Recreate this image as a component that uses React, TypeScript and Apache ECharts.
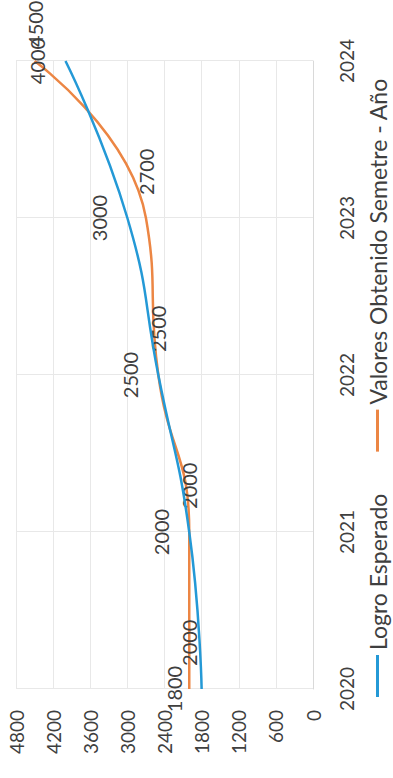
import React, { useEffect, useRef } from "react";
import * as echarts from "echarts";

const years = [2020, 2021, 2022, 2023, 2024];
const logroEsperado = [1800, 2000, 2500, 3000, 4000];
const valoresObtenidos = [2000, 2000, 2500, 2700, 4500];
const seriesNames = ["Logro Esperado", "Valores Obtenido Semetre - Año"];
const colors = ["#2499d6", "#ec8644"];

const FONT = "Lato, 'Open Sans', sans-serif";
const TEXT = "#3f3f3f";

export default function App() {
  const ref = useRef<HTMLDivElement>(null);

  useEffect(() => {
    if (!ref.current) return;
    const chart = echarts.init(ref.current, undefined, { renderer: "svg" });
    const blueData = years.map((y, i) => [y, logroEsperado[i]]);
    const orangeData = years.map((y, i) =>
      i === years.length - 1
        ? { value: [y, valoresObtenidos[i]], label: { distance: 14 } }
        : { value: [y, valoresObtenidos[i]] }
    );
    chart.setOption({
      animation: false,
      backgroundColor: "#ffffff",
      textStyle: { fontFamily: FONT, color: TEXT },
      grid: { left: 89, right: 61, top: 16, bottom: 80 },
      legend: {
        left: 76,
        top: 361,
        icon: "rect",
        itemWidth: 42,
        itemHeight: 3,
        itemGap: 42,
        textStyle: { fontFamily: FONT, fontSize: 23, color: TEXT },
        data: seriesNames,
      },
      xAxis: {
        type: "value",
        min: 2020,
        max: 2024,
        interval: 1,
        axisLine: { show: true, lineStyle: { color: "#d9d9d9", width: 1 } },
        axisTick: { show: false },
        splitLine: { show: true, lineStyle: { color: "#e8e8e8", width: 1 } },
        axisLabel: {
          fontFamily: FONT,
          fontSize: 19,
          color: TEXT,
          margin: 24,
          formatter: (v: number) => String(v),
        },
      },
      yAxis: {
        type: "value",
        min: 0,
        max: 4800,
        interval: 600,
        axisLine: { show: false },
        axisTick: { show: false },
        splitLine: { show: true, lineStyle: { color: "#e8e8e8", width: 1 } },
        axisLabel: {
          fontFamily: FONT,
          fontSize: 19,
          color: TEXT,
          margin: 21,
          formatter: (v: number) => String(v),
        },
      },
      series: [
        {
          name: seriesNames[0],
          type: "line",
          data: blueData,
          smooth: 0.5,
          symbol: "circle",
          symbolSize: 0.1,
          showSymbol: true,
          clip: false,
          lineStyle: { color: colors[0], width: 2.5 },
          itemStyle: { color: colors[0] },
          label: {
            show: true,
            position: "top",
            distance: 18,
            fontFamily: FONT,
            fontSize: 20,
            color: TEXT,
            formatter: (p: any) => String(p.value[1]),
          },
          z: 3,
        },
        {
          name: seriesNames[1],
          type: "line",
          data: orangeData,
          smooth: 0.5,
          symbol: "circle",
          symbolSize: 0.1,
          showSymbol: true,
          clip: false,
          lineStyle: { color: colors[1], width: 2.5 },
          itemStyle: { color: colors[1] },
          label: {
            show: true,
            position: "right",
            distance: 23,
            fontFamily: FONT,
            fontSize: 20,
            color: TEXT,
            formatter: (p: any) => String(p.value[1]),
          },
          z: 2,
        },
      ],
    });
    return () => chart.dispose();
  }, []);

  return (
    <div
      style={{
        position: "fixed",
        left: 0,
        top: 0,
        width: 393,
        height: 778,
        overflow: "hidden",
        background: "#ffffff",
      }}
    >
      <div
        ref={ref}
        style={{
          position: "absolute",
          left: 0,
          top: 0,
          width: 778,
          height: 393,
          transformOrigin: "0 0",
          transform: "translate(0px, 778px) rotate(-90deg)",
        }}
      />
    </div>
  );
}
